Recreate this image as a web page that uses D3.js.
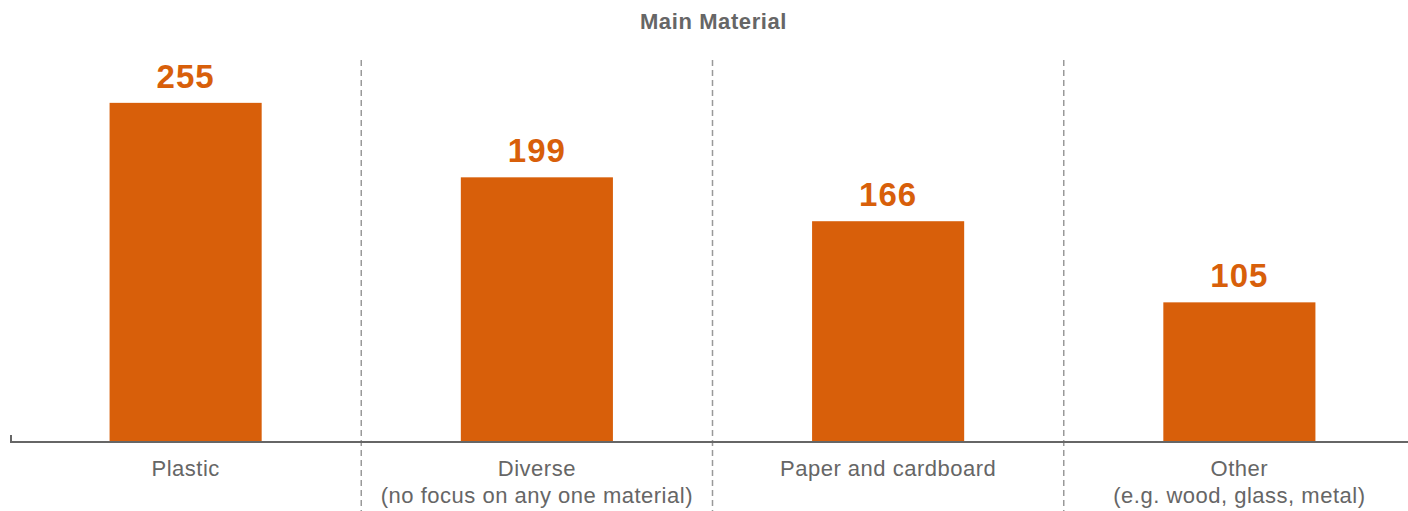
<!DOCTYPE html>
<html>
<head>
<meta charset="utf-8">
<script src="https://cdn.jsdelivr.net/npm/d3@7"></script>
<style>
  html, body { margin: 0; padding: 0; background: #fff; }
  svg { display: block; }
  text { font-family: "Liberation Sans", Arial, Helvetica, sans-serif; }
</style>
</head>
<body>
<svg id="chart" width="1408" height="511"></svg>
<script>
// Category labels (each entry is a list of lines)
const categories = ["Plastic", "Diverse", "Paper and cardboard", "Other"];
const categoryLines = [
  ["Plastic"],
  ["Diverse", "(no focus on any one material)"],
  ["Paper and cardboard"],
  ["Other", "(e.g. wood, glass, metal)"]
];
const counts = [255, 199, 166, 105];
const chartTitle = "Main Material";

const W = 1408, H = 511;
const margin = { left: 10, right: -7, top: 43, bottom: 69 };
const barColor = "#D85F0A";
const grey = "#666666";

const svg = d3.select("#chart");

const x = d3.scaleBand()
  .domain(categories)
  .range([margin.left, W - margin.right])
  .padding(0);

const y = d3.scaleLinear()
  .domain([0, 300])
  .range([H - margin.bottom, margin.top]);

const barFrac = 0.433;
const barW = x.bandwidth() * barFrac;
const baseY = y(0);

// Title
svg.append("text")
  .attr("x", (x.range()[0] + x.range()[1]) / 2 + 1)
  .attr("y", 29)
  .attr("text-anchor", "middle")
  .attr("font-size", 22)
  .attr("font-weight", "bold")
  .attr("fill", grey)
  .attr("letter-spacing", 0.6)
  .text(chartTitle);

// Dashed separators between categories
svg.append("g")
  .selectAll("line")
  .data(categories.slice(1))
  .join("line")
  .attr("x1", d => x(d))
  .attr("x2", d => x(d))
  .attr("y1", 60)
  .attr("y2", H)
  .attr("stroke", "#999")
  .attr("stroke-width", 1.5)
  .attr("stroke-dasharray", "6,4");

// Bars
svg.append("g")
  .selectAll("rect")
  .data(counts)
  .join("rect")
  .attr("x", (d, i) => x(categories[i]) + (x.bandwidth() - barW) / 2)
  .attr("y", d => y(d))
  .attr("width", barW)
  .attr("height", d => baseY - y(d))
  .attr("fill", barColor);

// Value labels
svg.append("g")
  .selectAll("text")
  .data(counts)
  .join("text")
  .attr("x", (d, i) => x(categories[i]) + x.bandwidth() / 2)
  .attr("y", d => y(d) - 15)
  .attr("text-anchor", "middle")
  .attr("font-size", 33)
  .attr("font-weight", "bold")
  .attr("letter-spacing", 1)
  .attr("fill", barColor)
  .text(d => d);

// Baseline axis
svg.append("line")
  .attr("x1", margin.left)
  .attr("x2", W)
  .attr("y1", baseY)
  .attr("y2", baseY)
  .attr("stroke", grey)
  .attr("stroke-width", 2);

svg.append("line")
  .attr("x1", margin.left + 1)
  .attr("x2", margin.left + 1)
  .attr("y1", baseY - 7)
  .attr("y2", baseY)
  .attr("stroke", grey)
  .attr("stroke-width", 2);

// Category labels
const lab = svg.append("g")
  .selectAll("text")
  .data(categoryLines)
  .join("text")
  .attr("text-anchor", "middle")
  .attr("font-size", 22)
  .attr("fill", grey)
  .attr("letter-spacing", 0.5)
  .attr("transform", (d, i) => `translate(${x(categories[i]) + x.bandwidth() / 2},476)`);

lab.selectAll("tspan")
  .data(d => d)
  .join("tspan")
  .attr("x", 0)
  .attr("y", (d, j) => j * 26.5)
  .text(d => d);
</script>
</body>
</html>
